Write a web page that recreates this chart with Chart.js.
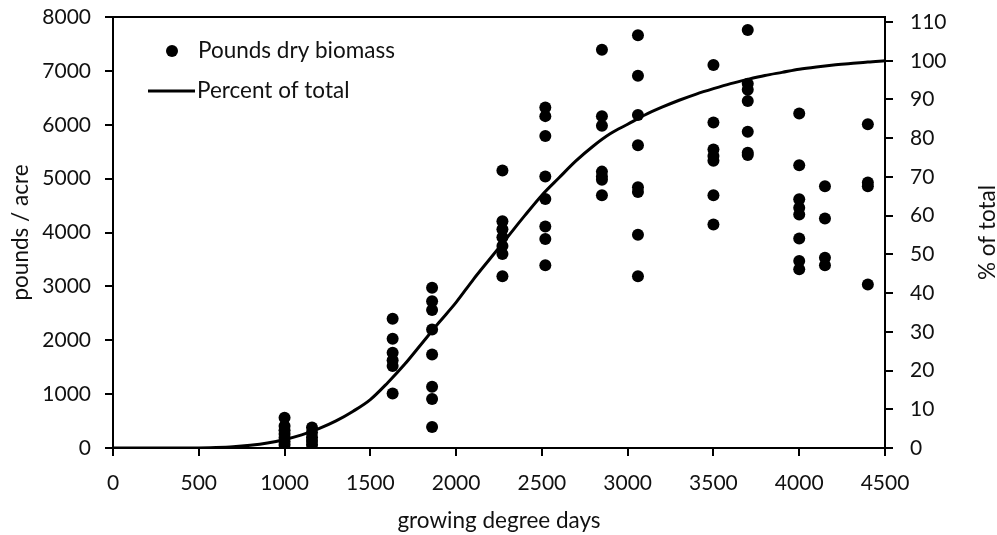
<!DOCTYPE html>
<html>
<head>
<meta charset="utf-8">
<title>Biomass accumulation</title>
<script src="https://cdn.jsdelivr.net/npm/chart.js@4.4.1/dist/chart.umd.min.js"></script>
<style>
  html, body { margin: 0; padding: 0; background: #fff; }
  #wrap { width: 997px; height: 535px; }
</style>
</head>
<body>
<div id="wrap"><canvas id="chart" width="997" height="535"></canvas></div>
<script>
// growing degree days of each harvest date
const harvestGdd = [1000, 1160, 1630, 1860, 2270, 2520, 2850, 3060, 3500, 3700, 4000, 4150, 4400];

// pounds dry biomass per acre, one list of plots per harvest date
const poundsDry = [
  [560, 410, 330, 260, 190, 120, 60],
  [380, 290, 200, 130, 60],
  [2400, 2030, 1770, 1630, 1520, 1010],
  [2975, 2725, 2560, 2200, 1735, 1135, 910, 390],
  [5150, 4210, 4060, 3910, 3750, 3600, 3190],
  [6320, 6160, 5790, 5040, 4620, 4110, 3880, 3390],
  [7390, 6160, 5980, 5130, 5040, 4980, 4690],
  [7660, 6910, 6180, 5620, 4840, 4750, 3960, 3190],
  [7110, 6040, 5540, 5420, 5330, 4690, 4150],
  [7760, 6760, 6650, 6440, 5870, 5480, 5440],
  [6210, 5250, 4615, 4460, 4335, 3890, 3470, 3320],
  [4860, 4260, 3530, 3390],
  [6010, 4930, 4860, 3035]
];

// cumulative percent of total biomass along the season
const curveGdd = [0, 100, 200, 300, 400, 500, 600, 700, 800, 900,
  1000, 1100, 1200, 1300, 1400, 1500, 1600, 1700, 1800, 1900,
  2000, 2100, 2200, 2300, 2400, 2500, 2600, 2700, 2800, 2900,
  3000, 3100, 3200, 3300, 3400, 3500, 3600, 3700, 3800, 3900,
  4000, 4100, 4200, 4300, 4400, 4500];
const percentTotal = [0, 0, 0, 0, 0, 0, 0.1, 0.3, 0.7, 1.3,
  2.2, 3.4, 5.0, 7.0, 9.5, 12.5, 16.8, 21.6, 27.0, 32.4,
  37.6, 43.5, 49.0, 54.5, 60.0, 65.3, 69.8, 74.2, 78.0, 81.2,
  83.6, 86.0, 88.0, 89.8, 91.4, 92.8, 94.1, 95.2, 96.2, 97.0,
  97.8, 98.4, 98.9, 99.3, 99.7, 100];

const FONT = "Lato, 'Open Sans', sans-serif";
const INK = "#111";
const TICK_SIZE = 21;
const TEXT_SIZE = 22.5;

const biomassPoints = [];
harvestGdd.forEach((gdd, i) => {
  poundsDry[i].forEach(lbs => biomassPoints.push({ x: gdd, y: lbs }));
});
const curvePoints = curveGdd.map((gdd, i) => ({ x: gdd, y: percentTotal[i] }));

// top border, legend in the plot and the right-hand axis title
const extras = {
  id: "extras",
  afterDraw(chart) {
    const { ctx, chartArea } = chart;
    ctx.save();
    ctx.strokeStyle = "#000";
    ctx.lineWidth = 2;
    ctx.beginPath();
    ctx.moveTo(chartArea.left - 1, chartArea.top);
    ctx.lineTo(chartArea.right + 1, chartArea.top);
    ctx.stroke();

    ctx.font = TEXT_SIZE + "px " + FONT;
    ctx.textBaseline = "middle";
    ctx.textAlign = "left";

    ctx.fillStyle = "#000";
    ctx.beginPath();
    ctx.arc(172, 51, 6, 0, Math.PI * 2);
    ctx.fill();
    ctx.fillStyle = INK;
    ctx.fillText(chart.data.datasets[0].label, 198, 51);

    ctx.beginPath();
    ctx.lineWidth = 3;
    ctx.moveTo(148, 91);
    ctx.lineTo(195, 91);
    ctx.stroke();
    ctx.fillText(chart.data.datasets[1].label, 197, 91);

    ctx.translate(988, (chartArea.top + chartArea.bottom) / 2);
    ctx.rotate(-Math.PI / 2);
    ctx.textAlign = "center";
    ctx.fillText("% of total", 0, 0);
    ctx.restore();
  }
};

const axisGrid = {
  drawOnChartArea: false,
  drawTicks: true,
  tickLength: 8,
  color: "#000",
  lineWidth: 2
};

const tickFont = { family: FONT, size: TICK_SIZE };
const plain = v => String(v);

new Chart(document.getElementById("chart"), {
  type: "scatter",
  data: {
    datasets: [
      {
        label: "Pounds dry biomass",
        data: biomassPoints,
        yAxisID: "y",
        pointRadius: 6,
        pointHoverRadius: 6,
        pointBackgroundColor: "#000",
        pointBorderWidth: 0,
        showLine: false
      },
      {
        label: "Percent of total",
        type: "line",
        data: curvePoints,
        yAxisID: "yPct",
        borderColor: "#000",
        borderWidth: 3,
        pointRadius: 0,
        cubicInterpolationMode: "monotone",
        fill: false
      }
    ]
  },
  options: {
    responsive: false,
    animation: false,
    layout: { padding: { top: 17, left: 0, right: 0, bottom: 0 } },
    plugins: { legend: { display: false }, tooltip: { enabled: false } },
    scales: {
      x: {
        type: "linear",
        min: 0,
        max: 4500,
        ticks: { stepSize: 500, padding: 15, color: INK, font: tickFont, callback: plain },
        grid: axisGrid,
        border: { color: "#000", width: 2 },
        title: { display: true, text: "growing degree days", color: INK, font: { family: FONT, size: TEXT_SIZE }, padding: { top: 0, bottom: 1 } },
        afterFit(scale) { scale.height = 87; scale.paddingLeft = 0; scale.paddingRight = 0; }
      },
      y: {
        position: "left",
        min: 0,
        max: 8000,
        ticks: { stepSize: 1000, padding: 14, color: INK, font: tickFont, callback: plain },
        grid: axisGrid,
        border: { color: "#000", width: 2 },
        title: { display: true, text: "pounds / acre", color: INK, font: { family: FONT, size: TEXT_SIZE }, padding: { top: 7, bottom: 0 } },
        afterFit(scale) { scale.width = 113; scale.paddingTop = 0; scale.paddingBottom = 0; }
      },
      yPct: {
        position: "right",
        min: 0,
        max: 111.3,
        ticks: { stepSize: 10, includeBounds: false, padding: 17, color: INK, font: tickFont, callback: plain },
        grid: axisGrid,
        border: { color: "#000", width: 2 },
        afterFit(scale) { scale.width = 112; scale.paddingTop = 0; scale.paddingBottom = 0; }
      }
    }
  },
  plugins: [extras]
});
</script>
</body>
</html>
